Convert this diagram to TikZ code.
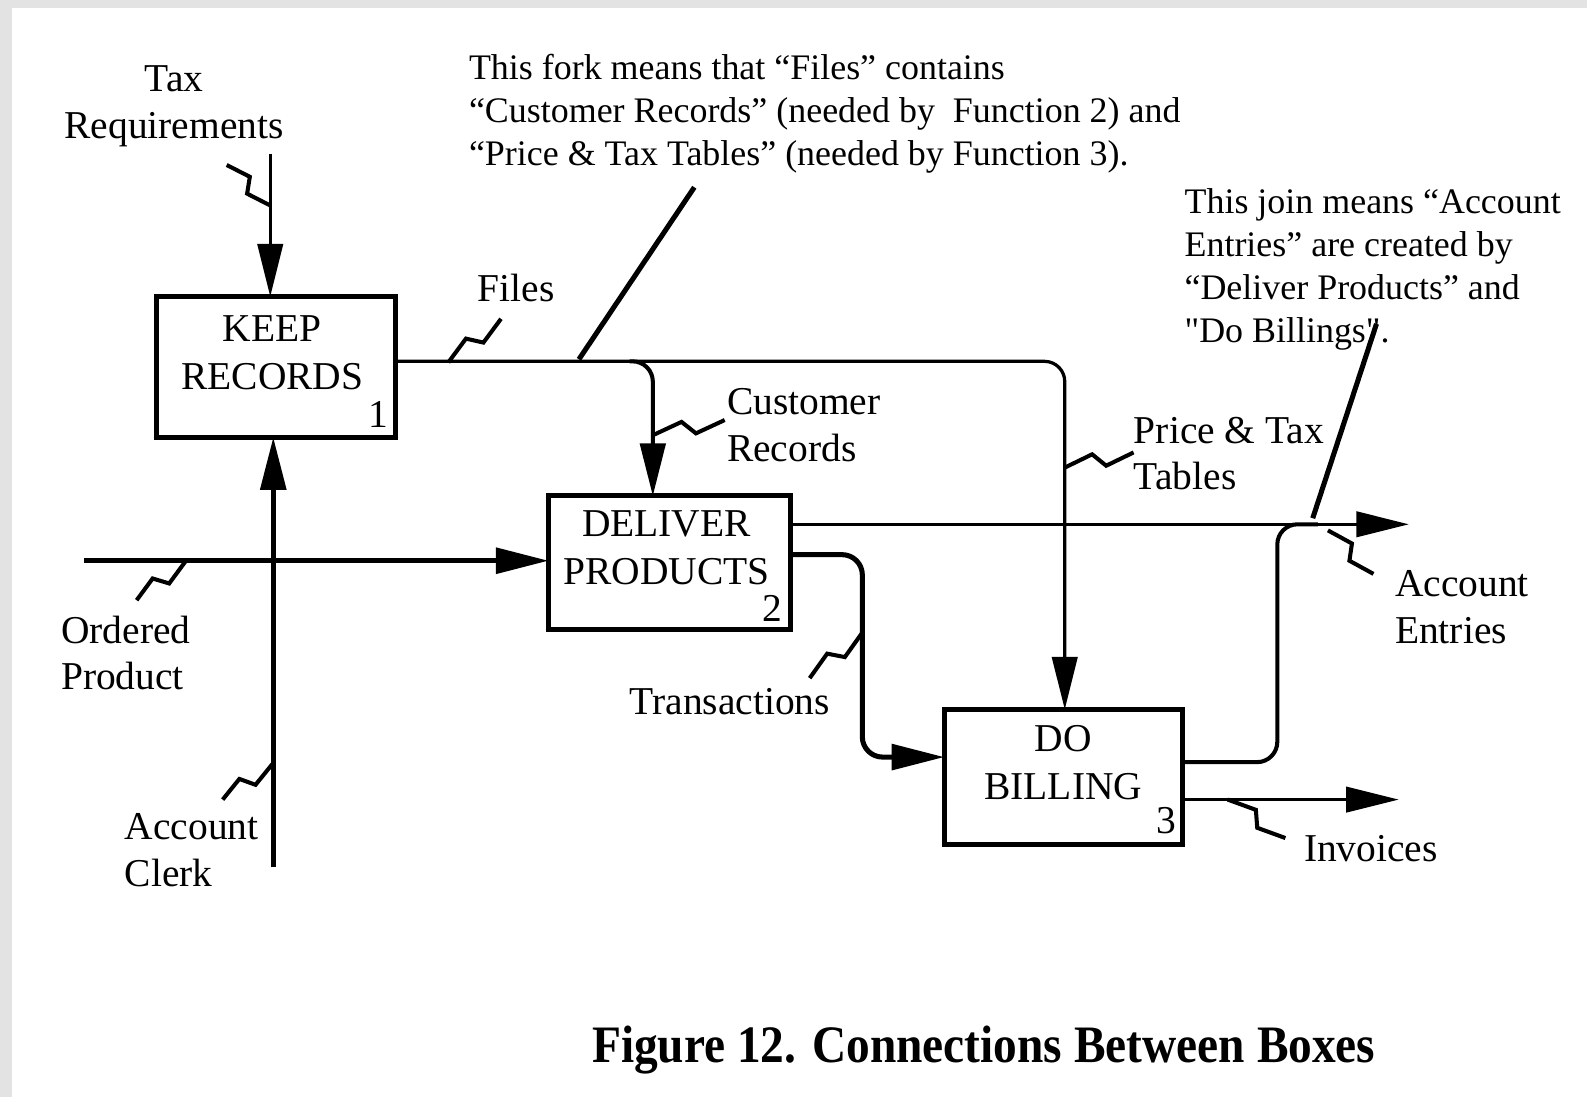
\documentclass[tikz,border=0pt]{standalone}
\usepackage{fontspec}
\usepackage{graphicx}
\setmainfont{Liberation Serif}
\newfontfamily\rawserif[Ligatures=TeXOff]{Liberation Serif}
\usetikzlibrary{arrows.meta,calc}
\definecolor{bgray}{HTML}{E3E3E3}
\newcommand\squigline[2]{\draw[squig] (#1) -- ($(#1)!.42!(#2)!3.5pt!90:(#2)$) -- ($(#1)!.58!(#2)!3.5pt!-90:(#2)$) -- (#2);}
\begin{document}
\begin{tikzpicture}[x=0.5pt,y=-0.5pt,
  box/.style={draw,line width=2.5pt,inner sep=0,outer sep=0},
  boxtext/.style={font=\fontsize{19.5}{23.5}\selectfont,align=center,inner sep=0},
  num/.style={font=\fontsize{19.5}{23.5}\selectfont,inner sep=0,anchor=south east},
  lab/.style={font=\fontsize{19.5}{23}\selectfont,inner sep=0,align=left},
  note/.style={font=\fontsize{17.75}{21.25}\selectfont,inner sep=0,align=left,anchor=west},
  flow/.style={line width=1.6pt},
  heavy/.style={line width=2.5pt},
  tip/.style={-{Triangle[length=26pt,width=12.5pt]}},
  squig/.style={line width=2pt,line join=miter},
  rc/.style={rounded corners=10pt}
]
% background
\fill[bgray] (0,0) rectangle (1568,1084);
\fill[white] (12,8) rectangle (1568,1084);
\useasboundingbox (0,0) rectangle (1568,1084);

% boxes
\node[box,minimum width=118pt,minimum height=69.5pt] (k1) at (273,362.5) {};
\node[box,minimum width=119.5pt,minimum height=66pt] (d2) at (661.5,556) {};
\node[box,minimum width=117.5pt,minimum height=66.5pt] (b3) at (1050.5,767.5) {};
\node[boxtext] (k1t) at ($(k1)+(-4,-14)$) {KEEP\\RECORDS};
\node[boxtext] (d2t) at ($(d2)+(-3,-15)$) {DELIVER\\PRODUCTS};
\node[boxtext] (b3t) at ($(b3)+(0,-14)$) {DO\\BILLING};
\node[num] (k1n) at ($(k1.south east)+(-7,-9)$) {1};
\node[num] (d2n) at ($(d2.south east)+(-8,-8)$) {2};
\node[num] (b3n) at ($(b3.south east)+(-5,-10)$) {3};

% labels
\node[lab,align=center] (taxl) at (172,105) {Tax\\Requirements};
\node[lab] (filesl) at (510,285) {Files};
\node[lab,anchor=west] (custl) at (718,420) {Customer\\Records};
\node[lab,anchor=west] (pricel) at (1120,448) {Price \& Tax\\Tables};
\node[lab,anchor=west] (ordl) at (60,645) {Ordered\\Product};
\node[lab,anchor=west] (clerkl) at (123,840) {Account\\Clerk};
\node[lab] (transl) at (721,693) {Transactions};
\node[lab,anchor=west] (entl) at (1378,600) {Account\\Entries};
\node[lab,anchor=west] (invl) at (1288,838) {Invoices};

% notes
\node[note] (fork) at (463,112) {This fork means that “Files” contains\\“Customer Records” (needed by~ Function 2) and\\“Price \& Tax Tables” (needed by Function 3).};
\node[note] (join) at (1170,266) {This join means “Account\\Entries” are created by\\“Deliver Products” and\\{\rawserif "Do Billings".}};

% title
\node (title) at (972,1037) {\fontsize{26}{30}\selectfont\bfseries\scalebox{0.9}[1]{Figure 12. Connections Between Boxes}};

% coordinates
\coordinate (taxin) at (267,152);
\coordinate (ordin) at (83,554);
\coordinate (clerkin) at (270,857);
\coordinate (fileout) at (391,357);
\coordinate (forkpt) at (622,357);
\coordinate (custin) at (645,490);
\coordinate (priceout) at (1052,701);
\coordinate (d2out1) at (781,518);
\coordinate (entout) at (1392,518);
\coordinate (d2out2) at (781,548);
\coordinate (transin) at (933,748);
\coordinate (b3out1) at (1168,753);
\coordinate (joinpt) at (1302,518);
\coordinate (b3out2) at (1168,790);
\coordinate (invout) at (1382,790);
\coordinate (forktail) at (686,185);
\coordinate (forkhead) at (572,355);
\coordinate (jointail) at (1360,320);
\coordinate (joinhead) at (1297,512);

% flows
\draw[flow,tip] (taxin) -- (taxin |- k1.north);
\draw[heavy,tip] (ordin) -- (ordin -| d2.west);
\draw[heavy,tip] (clerkin) -- (clerkin |- k1.south);
\draw[flow,tip,rc] (fileout) -| (priceout);
\draw[line width=2pt,tip,rc] (forkpt) -| (custin);
\draw[flow,tip] (d2out1) -- (entout);
\draw[heavy,tip,rc] (d2out2) -- (852,548) |- (transin);
\draw[line width=2pt,rc] (b3out1) -- (1262,753) -- (1262,518) -- (joinpt);
\draw[flow,tip] (b3out2) -- (invout);

% annotation leaders
\draw[heavy] (forktail) -- (forkhead);
\draw[heavy] (jointail) -- (joinhead);

% squiggles
\coordinate (sq1a) at (224,163); \coordinate (sq1b) at (267,203);
\coordinate (sq2a) at (495,315); \coordinate (sq2b) at (443,358);
\coordinate (sq3a) at (716,415); \coordinate (sq3b) at (645,430);
\coordinate (sq4a) at (1120,447); \coordinate (sq4b) at (1052,462);
\coordinate (sq5a) at (135,593); \coordinate (sq5b) at (183,555);
\coordinate (sq6a) at (220,790); \coordinate (sq6b) at (269,755);
\coordinate (sq7a) at (800,670); \coordinate (sq7b) at (852,625);
\coordinate (sq8a) at (1357,567); \coordinate (sq8b) at (1312,524);
\coordinate (sq9a) at (1270,828); \coordinate (sq9b) at (1213,790);
\squigline{sq1a}{sq1b}
\squigline{sq2a}{sq2b}
\squigline{sq3a}{sq3b}
\squigline{sq4a}{sq4b}
\squigline{sq5a}{sq5b}
\squigline{sq6a}{sq6b}
\squigline{sq7a}{sq7b}
\squigline{sq8a}{sq8b}
\squigline{sq9a}{sq9b}
\end{tikzpicture}
\end{document}
